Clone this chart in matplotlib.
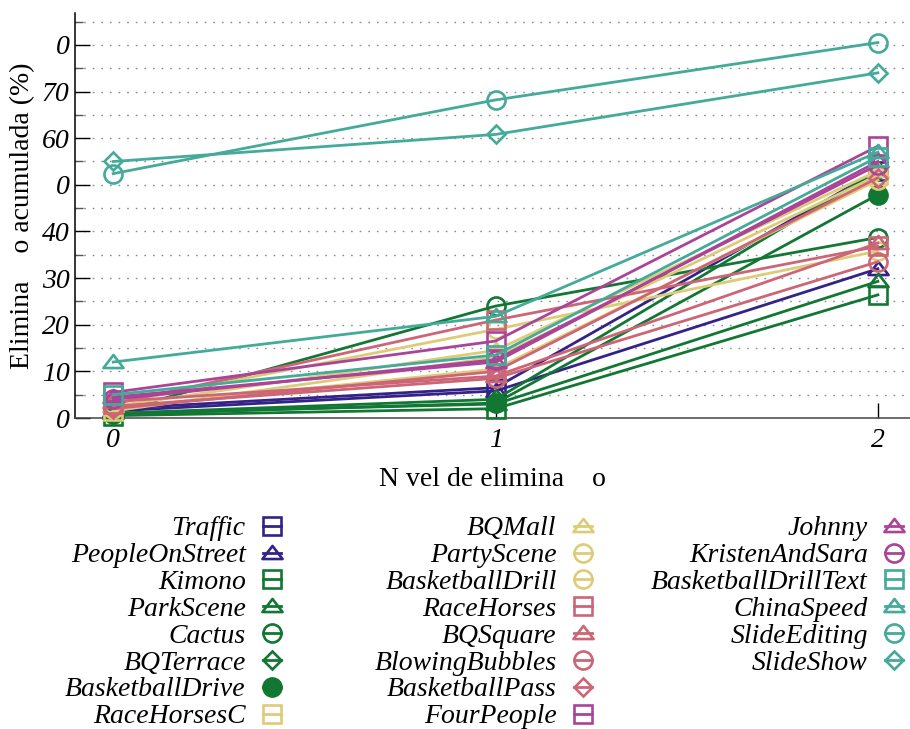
import matplotlib
matplotlib.use("Agg")
import matplotlib.pyplot as plt
from matplotlib.lines import Line2D
from matplotlib.path import Path
from matplotlib.ticker import FixedLocator, MultipleLocator

# Elimination levels on the x axis
levels = [0, 1, 2]
level_labels = ["0", "1", "2"]

# y ticks and the labels as they are printed
yticks = [0, 10, 20, 30, 40, 50, 60, 70, 80]
ytick_labels = ["0", "10", "20", "30", "40", "0", "60", "70", "0"]

sequences = [
    "Traffic", "PeopleOnStreet", "Kimono", "ParkScene", "Cactus", "BQTerrace",
    "BasketballDrive", "RaceHorsesC", "BQMall", "PartyScene", "BasketballDrill",
    "RaceHorses", "BQSquare", "BlowingBubbles", "BasketballPass", "FourPeople",
    "Johnny", "KristenAndSara", "BasketballDrillText", "ChinaSpeed",
    "SlideEditing", "SlideShow",
]

# cumulative elimination (%) per level, one entry per sequence
elim_level0 = [2.0, 1.5, 0.5, 1.0, 1.2, 1.0, 0.8, 1.5, 2.5, 2.0, 3.0,
               3.0, 3.5, 2.5, 2.0, 5.5, 4.5, 4.0, 5.0, 12.0, 52.4, 55.0]
elim_level1 = [6.5, 5.8, 2.0, 3.0, 24.0, 4.0, 3.2, 13.0, 14.5, 10.5, 19.0,
               21.0, 9.0, 8.5, 10.0, 16.5, 12.0, 12.5, 13.5, 21.8, 68.2, 60.8]
elim_level2 = [53.0, 32.0, 26.4, 29.3, 38.7, 53.0, 47.9, 52.0, 53.0, 51.0, 35.8,
               36.8, 37.5, 33.5, 51.5, 58.3, 55.0, 54.3, 56.0, 57.0, 80.5, 74.0]

colors = [
    "#332288", "#332288", "#117733", "#117733", "#117733", "#117733",
    "#117733", "#DDCC77", "#DDCC77", "#DDCC77", "#DDCC77",
    "#CC6677", "#CC6677", "#CC6677", "#CC6677", "#AA4499",
    "#AA4499", "#AA4499", "#44AA99", "#44AA99", "#44AA99", "#44AA99",
]
shapes = [
    "square", "triangle", "square", "triangle", "circle", "diamond",
    "dot", "square", "triangle", "circle", "circle",
    "square", "triangle", "circle", "diamond", "square",
    "triangle", "circle", "square", "triangle", "circle", "diamond",
]

tri = Path([(-1, -0.55), (1, -0.55), (0, 0.75), (-1, -0.55)],
           [Path.MOVETO, Path.LINETO, Path.LINETO, Path.CLOSEPOLY])
marker_style = {
    "square": dict(marker="s", markersize=12.5),
    "triangle": dict(marker=tri, markersize=14.5),
    "circle": dict(marker="o", markersize=13),
    "diamond": dict(marker="D", markersize=9.3),
    "dot": dict(marker="o", markersize=13),
}

serif = ["Liberation Serif", "DejaVu Serif"]
plt.rcParams["font.family"] = serif

fig = plt.figure(figsize=(9.10, 7.29), dpi=100)
ax = fig.add_axes([75 / 910, 1 - 418 / 729, 835 / 910, (418 - 12.7) / 729])

LW = 2.0
MEW = 1.9

handles = []
for i, name in enumerate(sequences):
    c = colors[i]
    st = marker_style[shapes[i]]
    face = c if shapes[i] == "dot" else "none"
    ys = [elim_level0[i], elim_level1[i], elim_level2[i]]
    ax.plot(levels, ys, color=c, lw=LW, mec=c, mfc=face, mew=MEW,
            clip_on=False, zorder=3 + i * 0.01, **st)
    handles.append(Line2D([0], [0], color=c, lw=LW, mec=c, mfc=face,
                          mew=MEW, **st))

ax.set_xlim(-0.1, 2.084)
ax.set_ylim(0, 86.9)

ax.xaxis.set_major_locator(FixedLocator(levels))
ax.set_xticklabels(level_labels)
ax.yaxis.set_major_locator(FixedLocator(yticks))
ax.set_yticklabels(ytick_labels)
ax.yaxis.set_minor_locator(MultipleLocator(5))

ax.tick_params(axis="both", which="major", direction="in", length=11,
               width=1, labelsize=20, colors="black")
ax.tick_params(axis="y", which="major", pad=4)
ax.tick_params(axis="x", which="major", pad=7, length=11)
ax.tick_params(axis="y", which="minor", direction="in", length=5.5,
               width=1, color="#555555")
for lab in ax.get_xticklabels() + ax.get_yticklabels():
    lab.set_fontstyle("italic")

for y in range(5, 90, 5):
    ax.axhline(y, color="#8c8c8c", lw=1.0, ls=(0, (1.2, 5)), zorder=1)

for side in ("top", "right"):
    ax.spines[side].set_visible(False)
ax.spines["left"].set_linewidth(1.1)
ax.spines["bottom"].set_linewidth(1.1)
ax.spines["bottom"].set_color("#444444")

ax.set_xlabel("N vel de elimina    o", fontsize=20, labelpad=10)
ax.set_ylabel("Elimina    o acumulada (%)", fontsize=20)
ax.yaxis.set_label_coords(23 / 910, 1 - 216 / 729, transform=fig.transFigure)
ax.yaxis.label.set_verticalalignment("center")

# three legend columns under the plot, label first then marker
columns = [(0, 8, 281), (8, 16, 592), (16, 22, 903)]
for start, stop, right_px in columns:
    leg = fig.legend(handles[start:stop], sequences[start:stop],
                     loc="upper right",
                     bbox_to_anchor=(right_px / 910, 1 - 516 / 729),
                     bbox_transform=fig.transFigure,
                     markerfirst=False, frameon=False, borderpad=0,
                     borderaxespad=0, handlelength=0.65, handletextpad=0.62,
                     labelspacing=0.05,
                     prop=dict(family=serif, style="italic", size=20))

fig.savefig("out.png", dpi=100)
